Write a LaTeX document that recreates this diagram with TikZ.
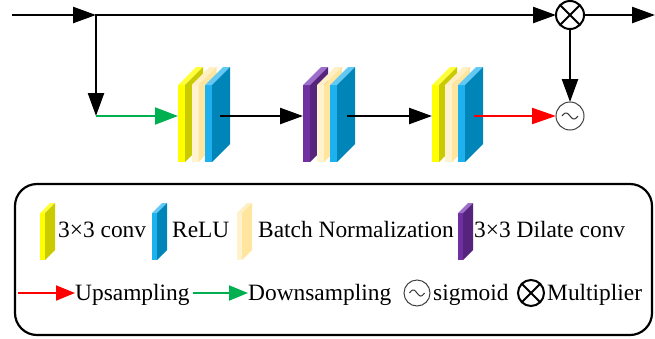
\documentclass[tikz,border=0pt]{standalone}
\usepackage{fontspec}
\setmainfont{Liberation Serif}
\usepackage{tikz}
\usetikzlibrary{arrows.meta, positioning}

% face colours of the slabs: F front, S side, T top
\definecolor{yelF}{HTML}{FFFF00}
\definecolor{yelS}{HTML}{CACA00}
\definecolor{yelT}{HTML}{FFFF3A}
\definecolor{bnF}{HTML}{FFF2CE}
\definecolor{bnS}{HTML}{FFE59E}
\definecolor{bnT}{HTML}{FFEFC4}
\definecolor{reluF}{HTML}{1DB2EF}
\definecolor{reluS}{HTML}{0085B9}
\definecolor{reluT}{HTML}{62C9F4}
\definecolor{dilF}{HTML}{7030A0}
\definecolor{dilS}{HTML}{56237D}
\definecolor{dilT}{HTML}{9D6FCB}
\definecolor{dsgreen}{HTML}{00B050}

% one layer slab: x, y (top of front face), width, height, depth, colour prefix
\newcommand{\slab}[6]{%
  \fill[#6F] (#1,#2) rectangle ({#1+#3},{#2+#4});
  \fill[#6T] (#1,#2) -- ({#1+#5},{#2-#5}) -- ({#1+#3+#5},{#2-#5}) -- ({#1+#3},#2) -- cycle;
  \fill[#6S] ({#1+#3},#2) -- ({#1+#3+#5},{#2-#5}) -- ({#1+#3+#5},{#2+#4-#5}) -- ({#1+#3},{#2+#4}) -- cycle;
}

\begin{document}
\begin{tikzpicture}[x=1pt, y=-1pt,
    arrow/.style={line width=2.4pt, -{Triangle[length=23pt, width=16pt]}},
    up/.style={line width=2.2pt, red, -{Triangle[length=24pt, width=16pt]}},
    down/.style={line width=2pt, dsgreen, -{Triangle[length=23pt, width=17pt]}},
    key/.style={line width=2pt, -{Triangle[length=19pt, width=15pt]}},
    grp/.style={inner sep=0pt, outer sep=0pt, minimum height=60pt},
    sigm/.style={circle, draw=black!75, line width=1pt, minimum size=28pt, inner sep=0pt, outer sep=0pt},
    mult/.style={circle, draw, line width=2pt, minimum size=28pt, inner sep=0pt, outer sep=0pt},
    lbl/.style={anchor=base west, inner sep=0pt, font=\fontsize{23.4}{28}\selectfont}
]
    \useasboundingbox (0,0) rectangle (655,338);

    % Conv blocks
    \slab{178}{85}{7}{77}{18}{yel}
    \slab{191.5}{85}{7}{77}{18}{bn}
    \slab{205}{85}{7}{77}{18}{relu}

    \slab{303}{85}{7}{77}{18}{dil}
    \slab{317}{85}{7}{77}{18}{bn}
    \slab{330}{85}{7}{77}{18}{relu}

    \slab{432}{85}{7}{77}{18}{yel}
    \slab{445}{85}{7}{77}{18}{bn}
    \slab{458}{85}{7}{77}{18}{relu}

    \node[grp, minimum width=42pt] (b1) at (199,116) {};
    \node[grp, minimum width=44pt] (b2) at (325,116) {};
    \node[grp, minimum width=42pt] (b3) at (453,116) {};

    % Attention path
    \coordinate (in) at (12,15);
    \coordinate (split) at (96,15);
    \coordinate (turn) at (96,116);
    \coordinate (out) at (655,15);
    \node[mult] (mul) at (570,15) {};
    \node[sigm] (sig) at (570,116) {};
    \draw[line width=2pt] (mul.north east) -- (mul.south west) (mul.north west) -- (mul.south east);
    \draw[line width=1pt, black!80, shift={(sig.center)}] plot[domain=-1:1, samples=40] ({8*\x},{3*sin(180*\x)});

    \draw[arrow] (in) -- (split);
    \draw[arrow] (split) -- (mul);
    \draw[arrow] (mul) -- (out);
    \draw[arrow, line cap=rect] (split) -- (turn);
    \draw[down] (turn) -- (b1.west);
    \draw[arrow] (b1.east) -- (b2.west);
    \draw[arrow] (b2.east) -- (b3.west);
    \draw[up] (b3.east) -- (sig);
    \draw[arrow] (mul) -- (sig);

    % Legend
    \node[draw, line width=2.2pt, rounded corners=22pt, minimum width=637pt, minimum height=151pt] (legend) at (333.5,259.5) {};

    \slab{40}{213}{5}{47}{10}{yel}
    \node[lbl] (tconv) at (58,237) {3×3 conv};
    \slab{152}{213}{5}{47}{10}{relu}
    \node[lbl] (trelu) at (172,237) {ReLU};
    \slab{237}{213}{5}{47}{10}{bn}
    \node[lbl] (tbn) at (258,237) {Batch Normalization};
    \slab{458}{213}{5}{47}{10}{dil}
    \node[lbl] (tdil) at (474,237) {3×3 Dilate conv};

    \coordinate (ua) at (18,293);
    \node[lbl] (tup) at (75,300.5) {Upsampling};
    \draw[key, red] (ua) -- (ua -| tup.west);
    \coordinate (da) at (193,293);
    \node[lbl] (tdown) at (248,300.5) {Downsampling};
    \draw[key, dsgreen] (da) -- (da -| tdown.west);
    \node[sigm, minimum size=26pt] (lsig) at (417,293) {};
    \draw[line width=1pt, black!80, shift={(lsig.center)}] plot[domain=-1:1, samples=40] ({7.5*\x},{3*sin(180*\x)});
    \node[lbl] (tsig) at (433,300.5) {sigmoid};
    \node[mult, minimum size=26pt] (lmul) at (531,293) {};
    \draw[line width=2pt] (lmul.north east) -- (lmul.south west) (lmul.north west) -- (lmul.south east);
    \node[lbl] (tmul) at (547,300.5) {Multiplier};
\end{tikzpicture}
\end{document}
